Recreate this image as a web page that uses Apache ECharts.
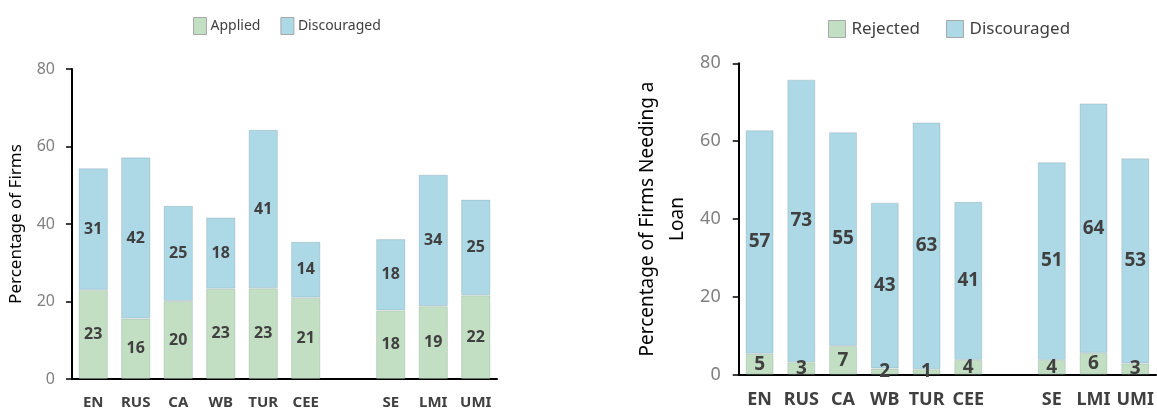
<!DOCTYPE html>
<html>
<head>
<meta charset="UTF-8">
<title>Applied / Rejected / Discouraged</title>
<style>
  html, body { margin: 0; padding: 0; background: #fff; overflow: hidden; }
  #chart { width: 1157px; height: 410px; }
</style>
</head>
<body>
<div id="chart"></div>
<script src="https://cdn.jsdelivr.net/npm/echarts@6/dist/echarts.min.js"></script>
<script>
// categories (empty slot keeps the gap before SE)
var categories = ['EN', 'RUS', 'CA', 'WB', 'TUR', 'CEE', '', 'SE', 'LMI', 'UMI'];
var yTicks = [0, 20, 40, 60, 80];

// left panel: percentage of firms
var applied = [23.0, 15.6, 20.1, 23.3, 23.4, 21.0, null, 17.7, 18.8, 21.6];
var discouragedAll = [31.4, 41.6, 24.6, 18.4, 40.9, 14.4, null, 18.4, 33.9, 24.7];

// right panel: percentage of firms needing a loan
var rejected = [5.4, 3.2, 7.4, 1.6, 1.4, 3.8, null, 3.8, 5.6, 2.9];
var discouragedNeed = [57.4, 72.6, 54.9, 42.6, 63.4, 40.6, null, 50.8, 64.1, 52.7];

var green = '#c3dfc3';
var blue = '#add8e6';
var font = 'Noto Sans';

var chart = echarts.init(document.getElementById('chart'));

function xAx(idx, size) {
  return {
    type: 'category',
    gridIndex: idx,
    data: categories,
    axisLine: { lineStyle: { color: '#000', width: 2 } },
    axisTick: { show: false },
    axisLabel: {
      margin: 16,
      color: '#404040',
      fontFamily: font,
      fontWeight: 'bold',
      fontSize: size,
      interval: 0
    }
  };
}

function yAx(idx, name, nameSize, nameGap, labelSize, margin) {
  return {
    type: 'value',
    gridIndex: idx,
    min: yTicks[0],
    max: yTicks[yTicks.length - 1],
    interval: 20,
    name: name,
    nameLocation: 'middle',
    nameGap: nameGap,
    nameTextStyle: { color: '#000', fontFamily: font, fontSize: nameSize, lineHeight: 30 },
    axisLine: { show: true, lineStyle: { color: '#000', width: 2 } },
    axisTick: { show: true, length: 6, lineStyle: { color: '#000', width: 1.5 } },
    splitLine: { show: false },
    axisLabel: { margin: margin, color: '#808080', fontFamily: font, fontSize: labelSize }
  };
}

function bar(name, data, idx, color, gap, size) {
  return {
    name: name,
    type: 'bar',
    stack: 'g' + idx,
    xAxisIndex: idx,
    yAxisIndex: idx,
    data: data,
    barCategoryGap: gap,
    itemStyle: { color: color, borderColor: 'rgba(90,110,120,0.2)', borderWidth: 1 },
    label: {
      show: true,
      position: 'inside',
      color: '#404040',
      fontFamily: font,
      fontWeight: 'bold',
      fontSize: size,
      formatter: function (p) { return Math.round(p.value); }
    }
  };
}

var option = {
  animation: false,
  legend: [{
    data: ['Applied', 'Discouraged'],
    left: 193, top: 17, padding: 0,
    itemWidth: 13, itemHeight: 17, itemGap: 20,
    icon: 'rect',
    itemStyle: { borderColor: '#a8a8a8', borderWidth: 1 },
    textStyle: { color: '#404040', fontFamily: font, fontSize: 14, padding: [0, 0, 0, -1] }
  }, {
    data: ['Rejected', 'Discouraged'],
    left: 828, top: 20, padding: 0,
    itemWidth: 17, itemHeight: 17, itemGap: 26,
    icon: 'rect',
    itemStyle: { borderColor: '#a8a8a8', borderWidth: 1 },
    textStyle: { color: '#404040', fontFamily: font, fontSize: 17, padding: [0, 0, 0, 1] }
  }],
  grid: [
    { left: 70.5, width: 426.5, top: 69, bottom: 29.5 },
    { left: 738.7, width: 418.5, top: 63.3, bottom: 35.3 }
  ],
  xAxis: [xAx(0, 15), xAx(1, 18)],
  yAxis: [
    yAx(0, 'Percentage of Firms', 17, 41, 16, 17),
    yAx(1, 'Percentage of Firms Needing a\nLoan', 19, 46, 18, 18)
  ],
  series: [
    bar('Applied', applied, 0, green, '31%', 16),
    bar('Discouraged', discouragedAll, 0, blue, '31%', 16),
    bar('Rejected', rejected, 1, green, '33%', 19),
    bar('Discouraged', discouragedNeed, 1, blue, '33%', 19)
  ]
};

chart.setOption(option);
</script>
</body>
</html>
